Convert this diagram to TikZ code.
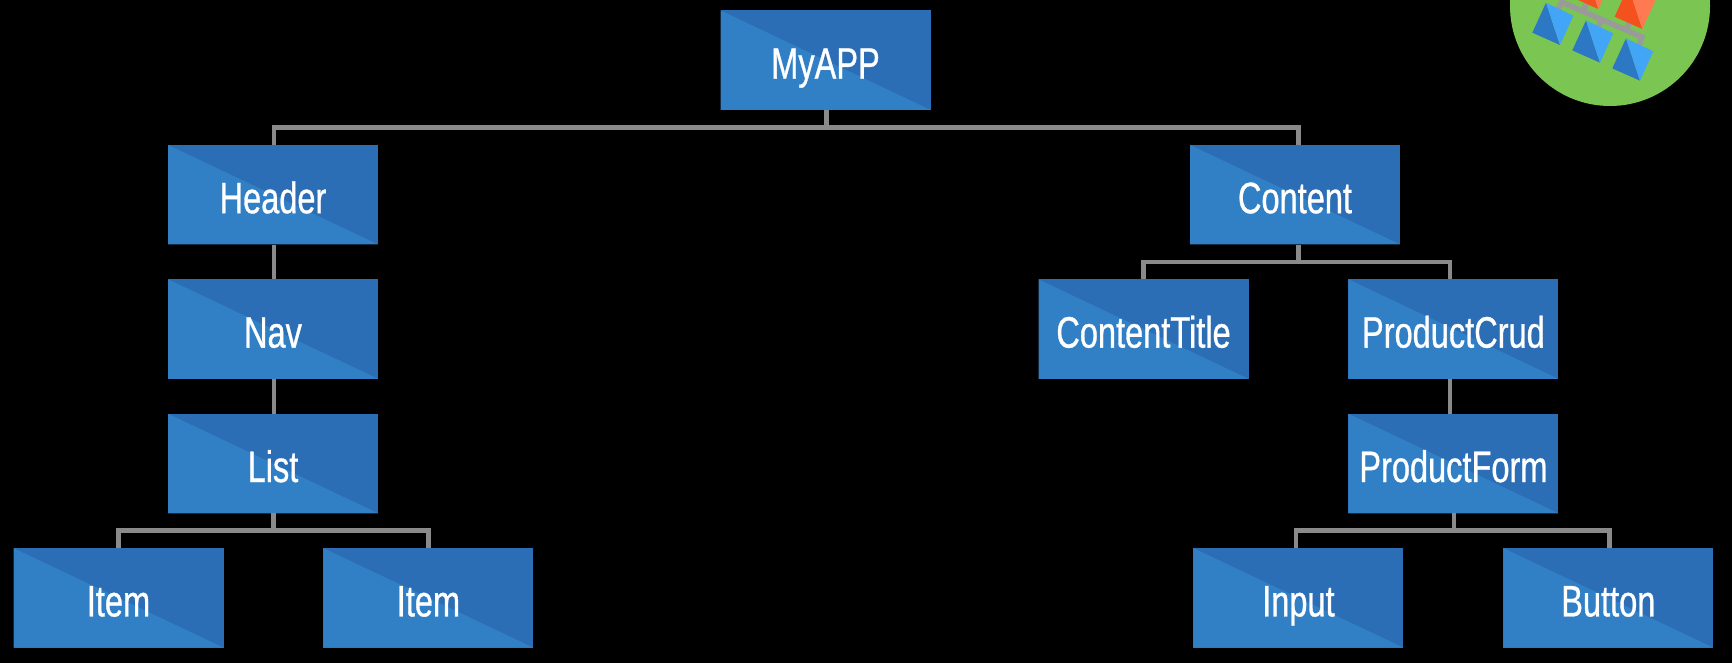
\documentclass[tikz,border=0pt]{standalone}
\usepackage{fontspec}
\setmainfont[FakeStretch=0.74,FakeBold=0.7]{Liberation Sans}
\usepackage{xcolor}
\usetikzlibrary{positioning}
\definecolor{boxdark}{HTML}{2C6EB5}
\definecolor{boxlight}{HTML}{3180C6}
\definecolor{linkgray}{HTML}{8A8A8A}
\definecolor{busgray}{HTML}{9A9A9A}
\definecolor{logogreen}{HTML}{7BC553}
\definecolor{tiledark}{HTML}{2D78C4}
\definecolor{tilelight}{HTML}{42A5F5}
\definecolor{peakdark}{HTML}{F4511E}
\definecolor{peaklight}{HTML}{FF7A50}
% one tile of the logo, placed by its lowest corner
\newcommand{\logotile}[3]{
    \begin{scope}[shift={(#1)}]
        \fill[#2] (-14,-42.3) -- (0,0) -- (-27.7,-12.3) -- cycle;
        \fill[#3] (-14,-42.3) -- (0,0) -- (13.3,-29.3) -- cycle;
    \end{scope}
}

\begin{document}
\begin{tikzpicture}[
    x=1pt, y=-1pt,
    node distance=34.5pt and 99.5pt,
    box/.style={
        rectangle, fill=boxdark, inner sep=0pt,
        minimum width=210pt, minimum height=99.5pt, align=center,
        text=white, text height=37pt, text depth=0pt,
        font=\fontsize{44}{44}\selectfont,
        path picture={
            \fill[boxlight] (path picture bounding box.north west)
                -- (path picture bounding box.south east)
                -- (path picture bounding box.south west) -- cycle;
        }
    },
    link/.style={draw=linkgray, line width=4.6pt},
    bus/.style={draw=busgray, line width=5.5pt}
]
\useasboundingbox (0,0) rectangle (1732,663);
\fill[black] (0,0) rectangle (1732,663);

% logo in the corner
\begin{scope}
    \clip (0,0) rectangle (1732,663);
    \fill[logogreen] (1610,6) circle (100);
    \draw[bus] (1556,14) -- (1561.5,2) -- (1642,37) -- (1637,50);
    \draw[bus] (1601.5,19.5) -- (1596,33);
    \draw[bus] (1583,11) -- (1587,3);
    \draw[bus] (1626,30) -- (1631,20);
    \logotile{1598.3,9}{peakdark}{peaklight}
    \logotile{1642.3,29}{peakdark}{peaklight}
    \logotile{1560,45}{tiledark}{tilelight}
    \logotile{1600,62.7}{tiledark}{tilelight}
    \logotile{1640,80.7}{tiledark}{tilelight}
\end{scope}

\node[box] (myapp) at (825.5,60.2) {MyAPP};

% left branch
\node[box] (header) at (273,194.7) {Header};
\node[box, below=of header] (nav) {Nav};
\node[box, below=of nav] (list) {List};
\node[box, below=of list, xshift=-154.5pt] (item1) {Item};
\node[box, right=of item1] (item2) {Item};

% right branch
\node[box] (content) at (1295,194.7) {Content};
\node[box, below=of content, xshift=-151.5pt] (title) {ContentTitle};
\node[box, right=of title] (crud) {ProductCrud};
\node[box, below=of crud] (form) {ProductForm};
\node[box, below=of form, xshift=-155pt] (input) {Input};
\node[box, right=of input] (button) {Button};

\draw[link] ([xshift=1pt]myapp.south) -- ++(0,17.5) -| ([xshift=1pt]header.north);
\draw[link] ([xshift=1pt]myapp.south) -- ++(0,17.5) -| ([xshift=3.5pt]content.north);
\draw[link] ([xshift=1pt]header.south) -- ([xshift=1pt]nav.north);
\draw[link] ([xshift=1pt]nav.south) -- ([xshift=1pt]list.north);
\draw[link] ([xshift=.5pt]list.south) -- ++(0,17) -| (item1.north);
\draw[link] ([xshift=.5pt]list.south) -- ++(0,17) -| (item2.north);
\draw[link] ([xshift=3.5pt]content.south) -- ++(0,17.5) -| (title.north);
\draw[link] ([xshift=3.5pt]content.south) -- ++(0,17.5) -| ([xshift=-3.5pt]crud.north);
\draw[link] ([xshift=-3.5pt]crud.south) -- ([xshift=-3.5pt]form.north);
\draw[link] ([xshift=.5pt]form.south) -- ++(0,17) -| ([xshift=-2.5pt]input.north);
\draw[link] ([xshift=.5pt]form.south) -- ++(0,17) -| ([xshift=1pt]button.north);
\end{tikzpicture}
\end{document}
